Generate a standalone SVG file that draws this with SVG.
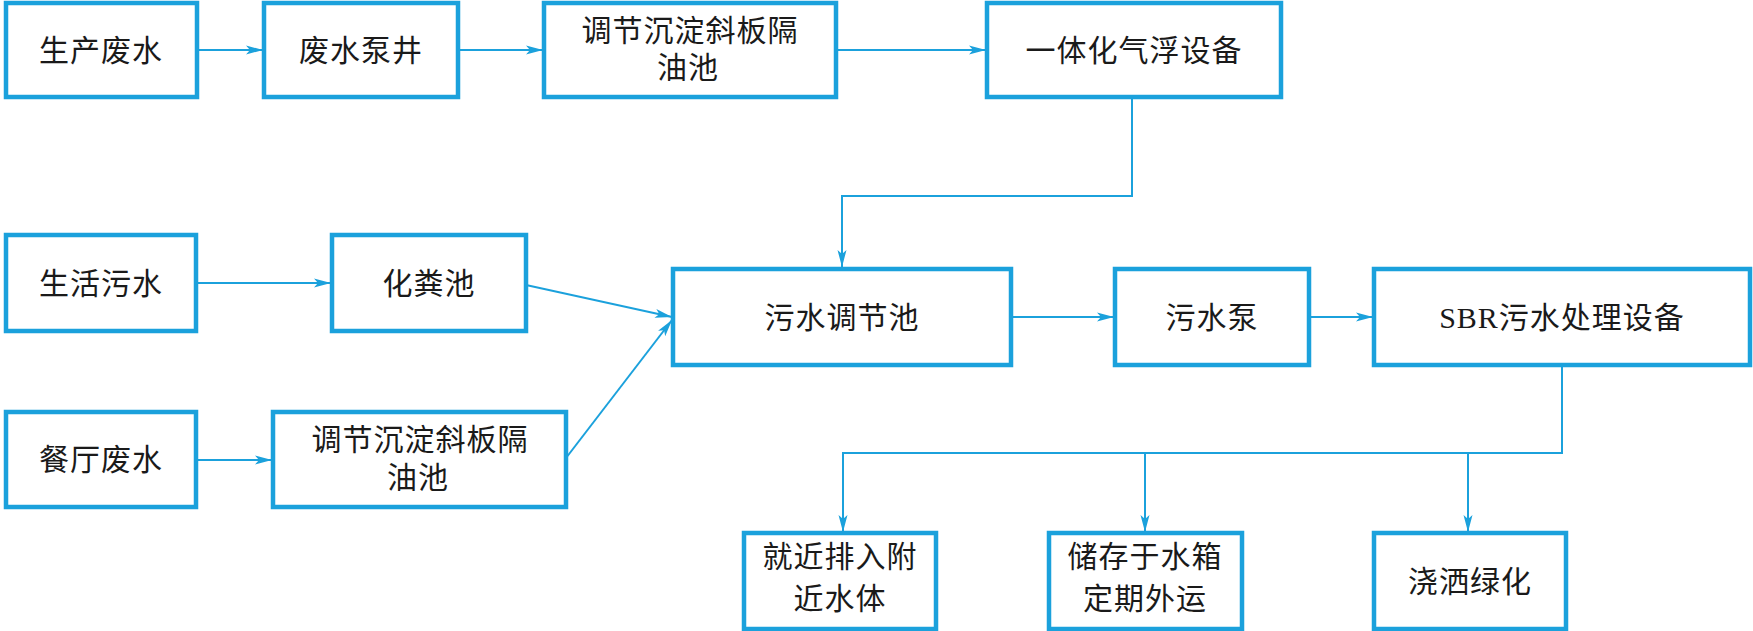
<svg xmlns="http://www.w3.org/2000/svg" width="1753" height="631" viewBox="0 0 1753 631">
<style>
.box{fill:#fff;stroke:#1ba1dc;stroke-width:4.5}
.t{font-family:"Liberation Serif","Noto Sans CJK SC",serif;font-size:30px;fill:#1a1a1a;text-anchor:middle;letter-spacing:1px}
.c{fill:none;stroke:#1ba1dc;stroke-width:2}
</style>
<defs>
<marker id="ah" markerWidth="18" markerHeight="10" refX="17" refY="5" orient="auto" markerUnits="userSpaceOnUse">
<path d="M0,0.5 L17,5 L0,9.5 L4,5 Z" fill="#1ba1dc"/>
</marker>
</defs>
<rect width="1753" height="631" fill="#fff"/>
<g id="connectors">
<line class="c" x1="197" y1="50" x2="263" y2="50" marker-end="url(#ah)"/>
<line class="c" x1="458" y1="50" x2="543" y2="50" marker-end="url(#ah)"/>
<line class="c" x1="836" y1="50" x2="986" y2="50" marker-end="url(#ah)"/>
<polyline class="c" points="1132,97 1132,196 842,196 842,267" marker-end="url(#ah)"/>
<line class="c" x1="196" y1="283" x2="331" y2="283" marker-end="url(#ah)"/>
<line class="c" x1="526" y1="285" x2="672" y2="317" marker-end="url(#ah)"/>
<line class="c" x1="566" y1="458" x2="672" y2="320" marker-end="url(#ah)"/>
<line class="c" x1="196" y1="460" x2="272" y2="460" marker-end="url(#ah)"/>
<line class="c" x1="1011" y1="317" x2="1114" y2="317" marker-end="url(#ah)"/>
<line class="c" x1="1309" y1="317" x2="1373" y2="317" marker-end="url(#ah)"/>
<polyline class="c" points="1562,365 1562,453 843,453 843,532" marker-end="url(#ah)"/>
<line class="c" x1="1145" y1="453" x2="1145" y2="532" marker-end="url(#ah)"/>
<line class="c" x1="1468" y1="453" x2="1468" y2="532" marker-end="url(#ah)"/>
</g>
<g id="n1"><rect class="box" x="6" y="3" width="191" height="94"/><text class="t" x="101" y="61">生产废水</text></g>
<g id="n2"><rect class="box" x="264" y="3" width="194" height="94"/><text class="t" x="361" y="61">废水泵井</text></g>
<g id="n3"><rect class="box" x="544" y="3" width="292" height="94"/><text class="t" x="690" y="41">调节沉淀斜板隔</text><text class="t" x="688" y="78">油池</text></g>
<g id="n4"><rect class="box" x="987" y="3" width="294" height="94"/><text class="t" x="1134" y="61">一体化气浮设备</text></g>
<g id="n5"><rect class="box" x="6" y="235" width="190" height="96"/><text class="t" x="101" y="294">生活污水</text></g>
<g id="n6"><rect class="box" x="332" y="235" width="194" height="96"/><text class="t" x="429" y="294">化粪池</text></g>
<g id="n7"><rect class="box" x="673" y="269" width="338" height="96"/><text class="t" x="842" y="328">污水调节池</text></g>
<g id="n8"><rect class="box" x="1115" y="269" width="194" height="96"/><text class="t" x="1212" y="328">污水泵</text></g>
<g id="n9"><rect class="box" x="1374" y="269" width="376" height="96"/><text class="t" x="1562" y="328">SBR污水处理设备</text></g>
<g id="n10"><rect class="box" x="6" y="412" width="190" height="95"/><text class="t" x="101" y="470">餐厅废水</text></g>
<g id="n11"><rect class="box" x="273" y="412" width="293" height="95"/><text class="t" x="420" y="450">调节沉淀斜板隔</text><text class="t" x="418" y="488">油池</text></g>
<g id="n12"><rect class="box" x="744" y="533" width="192" height="96"/><text class="t" x="840" y="567">就近排入附</text><text class="t" x="840" y="609">近水体</text></g>
<g id="n13"><rect class="box" x="1049" y="533" width="193" height="96"/><text class="t" x="1145" y="567">储存于水箱</text><text class="t" x="1145" y="609">定期外运</text></g>
<g id="n14"><rect class="box" x="1374" y="533" width="192" height="96"/><text class="t" x="1470" y="592">浇洒绿化</text></g>
</svg>
